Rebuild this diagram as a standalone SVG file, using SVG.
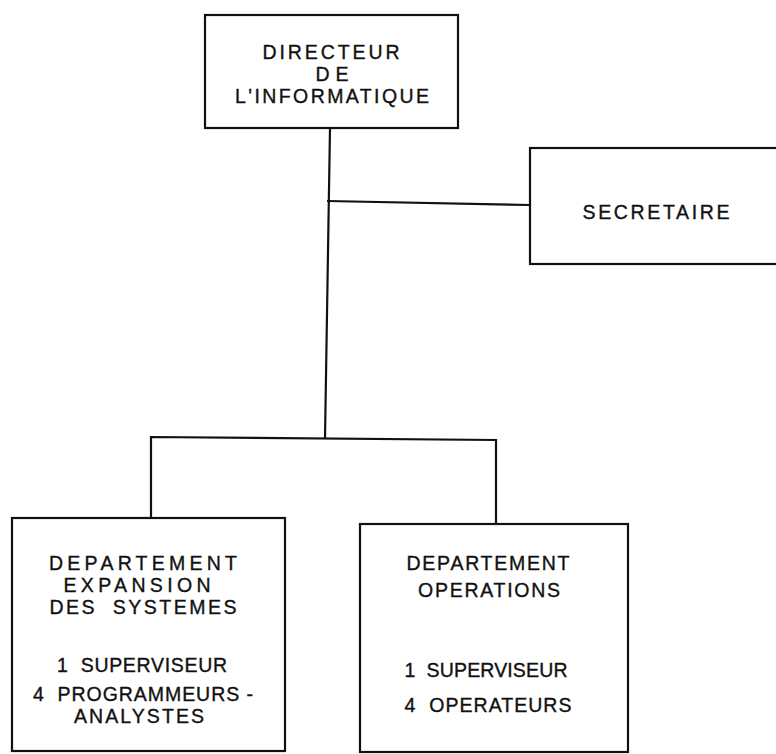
<svg xmlns="http://www.w3.org/2000/svg" width="776" height="754" viewBox="0 0 776 754">
  <style>
    .box { fill: #ffffff; stroke: #111111; stroke-width: 2.2; }
    .link { fill: none; stroke: #111111; stroke-width: 2.2; }
    .lbl { font-family: "Liberation Sans", Arial, sans-serif; font-size: 19.5px; fill: #111111; text-anchor: middle; white-space: pre; stroke: #111111; stroke-width: 0.35; }
  </style>
  <rect width="776" height="754" fill="#ffffff"/>

  <!-- connectors -->
  <g id="connectors">
    <path class="link" d="M330,128 L325,438"/>
    <path class="link" d="M327,201 L530,205"/>
    <path class="link" d="M151,518 L151,437 L496,440 L496,524"/>
  </g>

  <g id="directeur">
    <rect class="box" x="205" y="15" width="253" height="113"/>
    <text class="lbl" x="331" y="59" textLength="137" lengthAdjust="spacing">DIRECTEUR</text>
    <text class="lbl" x="332" y="81" textLength="33" lengthAdjust="spacing">DE</text>
    <text class="lbl" x="332" y="103" textLength="194" lengthAdjust="spacing">L'INFORMATIQUE</text>
  </g>

  <g id="secretaire">
    <rect class="box" x="530" y="148" width="260" height="116"/>
    <text class="lbl" x="656" y="219" textLength="147" lengthAdjust="spacing">SECRETAIRE</text>
  </g>

  <g id="dept-expansion">
    <rect class="box" x="12" y="518" width="273" height="233"/>
    <text class="lbl" x="143" y="570" textLength="188" lengthAdjust="spacing">DEPARTEMENT</text>
    <text class="lbl" x="137" y="592" textLength="147" lengthAdjust="spacing">EXPANSION</text>
    <text class="lbl" x="143" y="614" textLength="187" lengthAdjust="spacing" xml:space="preserve">DES  SYSTEMES</text>
    <text class="lbl" x="142" y="672" textLength="170" lengthAdjust="spacing" xml:space="preserve">1  SUPERVISEUR</text>
    <text class="lbl" x="143" y="701" textLength="220" lengthAdjust="spacing" xml:space="preserve">4  PROGRAMMEURS -</text>
    <text class="lbl" x="139" y="723" textLength="130" lengthAdjust="spacing">ANALYSTES</text>
  </g>

  <g id="dept-operations">
    <rect class="box" x="360" y="524" width="268" height="228"/>
    <text class="lbl" x="488" y="570" textLength="163" lengthAdjust="spacing">DEPARTEMENT</text>
    <text class="lbl" x="489" y="597" textLength="142" lengthAdjust="spacing">OPERATIONS</text>
    <text class="lbl" x="486" y="677" textLength="163" lengthAdjust="spacing" xml:space="preserve">1  SUPERVISEUR</text>
    <text class="lbl" x="488" y="712" textLength="167" lengthAdjust="spacing" xml:space="preserve">4  OPERATEURS</text>
  </g>
</svg>
